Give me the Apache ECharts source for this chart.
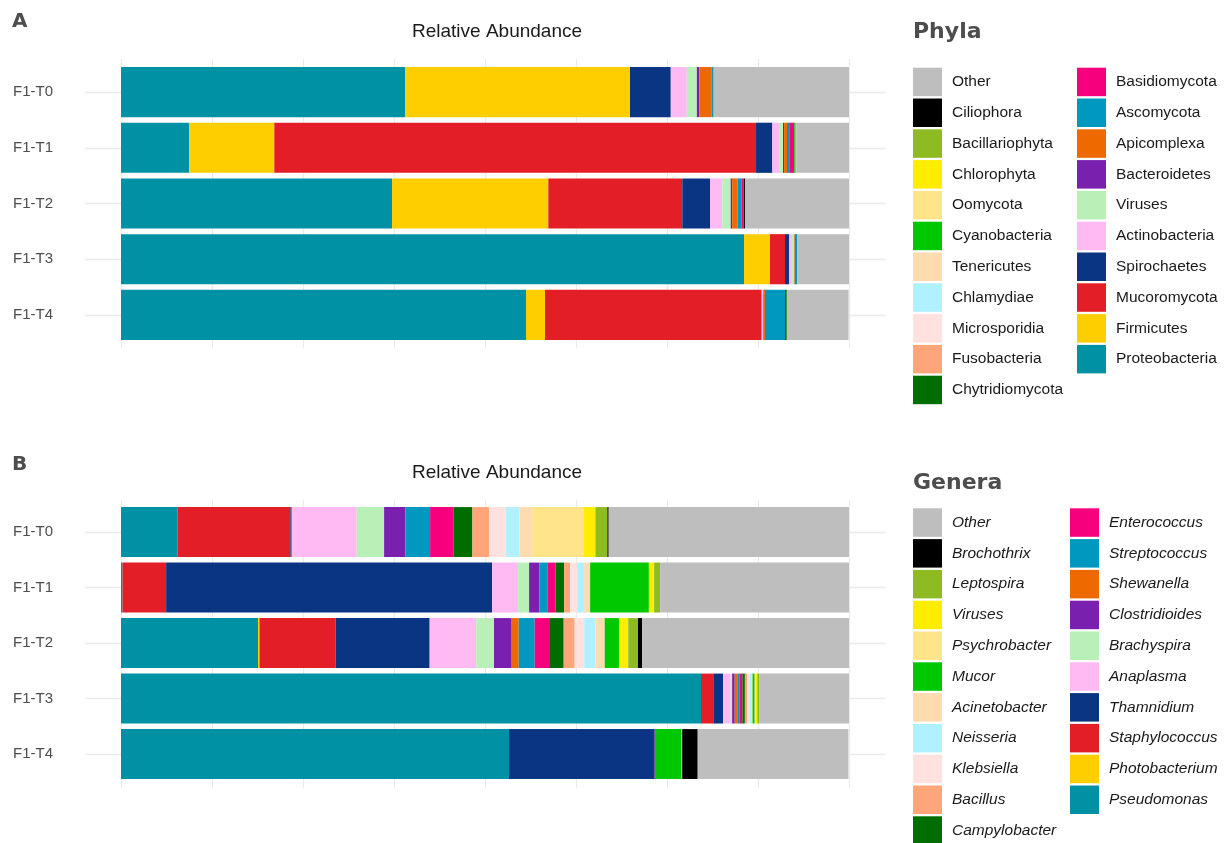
<!DOCTYPE html>
<html>
<head>
<meta charset="utf-8">
<script src="https://cdn.jsdelivr.net/npm/echarts@6/dist/echarts.min.js"></script>
<style>
  html, body { margin: 0; padding: 0; background: #ffffff; }
  #chart { width: 1230px; height: 843px; }
</style>
</head>
<body>
<div id="chart"></div>
<script>
// Samples, top to bottom
const samples = ['F1-T0', 'F1-T1', 'F1-T2', 'F1-T3', 'F1-T4'];

// Taxa in stacking order (left to right along each bar)
const phyla = ['Proteobacteria', 'Firmicutes', 'Mucoromycota', 'Spirochaetes', 'Actinobacteria',
  'Viruses', 'Bacteroidetes', 'Apicomplexa', 'Ascomycota', 'Basidiomycota', 'Chytridiomycota',
  'Fusobacteria', 'Microsporidia', 'Chlamydiae', 'Tenericutes', 'Cyanobacteria', 'Oomycota',
  'Chlorophyta', 'Bacillariophyta', 'Ciliophora', 'Other'];
const genera = ['Pseudomonas', 'Photobacterium', 'Staphylococcus', 'Thamnidium', 'Anaplasma',
  'Brachyspira', 'Clostridioides', 'Shewanella', 'Streptococcus', 'Enterococcus', 'Campylobacter',
  'Bacillus', 'Klebsiella', 'Neisseria', 'Acinetobacter', 'Mucor', 'Psychrobacter',
  'Viruses', 'Leptospira', 'Brochothrix', 'Other'];

// Shared fill colours, same order as the taxa lists
const palette = ['#0091A4', '#FFCE00', '#E41E26', '#093582', '#FFB9F3', '#B8F0B8', '#7920AF',
  '#EE6A00', '#0098BF', '#F7007E', '#006D00', '#FFA57A', '#FFE1E0', '#AFF1FF', '#FFDBB0',
  '#00C800', '#FFE48A', '#FFED00', '#8FBB22', '#000000', '#BEBEBE'];

// Relative abundance of each phylum per sample
const phylaT0 = [0.3905, 0.3087, 0, 0.0560, 0.0220, 0.0138, 0.0036, 0.0170, 0.0025, 0, 0,
  0, 0, 0, 0, 0, 0, 0, 0, 0, 0.1864];
const phylaT1 = [0.0938, 0.1168, 0.6617, 0.0224, 0.0091, 0.0055, 0.0015, 0.0040, 0.0040, 0.0045, 0.0018,
  0, 0, 0, 0, 0.0012, 0, 0, 0.0013, 0, 0.0742];
const phylaT2 = [0.3723, 0.2147, 0.1840, 0.0381, 0.0169, 0.0115, 0.0020, 0.0073, 0.0055, 0.0025, 0.0010,
  0, 0, 0, 0, 0, 0, 0, 0, 0.0014, 0.1429];
const phylaT3 = [0.8558, 0.0357, 0.0206, 0.0055, 0.0040, 0.0030, 0, 0.0010, 0.0034, 0, 0,
  0, 0, 0, 0, 0, 0, 0, 0, 0, 0.0710];
const phylaT4 = [0.5563, 0.0261, 0.2977, 0, 0.0020, 0, 0, 0.0025, 0.0275, 0, 0.0025,
  0, 0, 0, 0, 0, 0, 0, 0, 0, 0.0848];

// Relative abundance of each genus per sample
const generaT0 = [0.0779, 0, 0.1547, 0.0019, 0.0893, 0.0376, 0.0292, 0, 0.0340, 0.0320, 0.0261,
  0.0229, 0.0233, 0.0183, 0.0179, 0, 0.0710, 0.0155, 0.0165, 0.0018, 0.3301];
const generaT1 = [0.0020, 0, 0.0600, 0.4478, 0.0357, 0.0151, 0.0142, 0, 0.0115, 0.0105, 0.0119,
  0.0083, 0.0096, 0.0096, 0.0082, 0.0807, 0, 0.0072, 0.0083, 0, 0.2596];
const generaT2 = [0.1882, 0.0020, 0.1047, 0.1291, 0.0640, 0.0244, 0.0233, 0.0106, 0.0219, 0.0211, 0.0188,
  0.0151, 0.0132, 0.0151, 0.0129, 0.0196, 0, 0.0128, 0.0134, 0.0055, 0.2843];
const generaT3 = [0.7967, 0, 0.0169, 0.0133, 0.0106, 0.0020, 0.0035, 0.0035, 0.0035, 0.0035, 0.0035,
  0.0030, 0.0030, 0.0025, 0.0020, 0.0030, 0.0010, 0.0025, 0.0025, 0, 0.1241];
const generaT4 = [0.5330, 0, 0, 0.1991, 0, 0, 0.0012, 0, 0, 0, 0,
  0, 0, 0, 0, 0.0364, 0, 0, 0.0012, 0.0213, 0.2070];

const phylaRows = [phylaT0, phylaT1, phylaT2, phylaT3, phylaT4];
const generaRows = [generaT0, generaT1, generaT2, generaT3, generaT4];

const SANS = '"Liberation Sans", Arial, Helvetica, sans-serif';
const GRID_COLOR = '#ebebeb';

function stackSeries(names, rows, stack, axisIndex) {
  return names.map((name, k) => ({
    name: name,
    type: 'bar',
    stack: stack,
    xAxisIndex: axisIndex,
    yAxisIndex: axisIndex,
    barCategoryGap: '10%',
    itemStyle: { color: palette[k] },
    emphasis: { disabled: true },
    data: rows.map(r => r[k])
  }));
}

// Legend columns list taxa in reverse stacking order
function legendColumn(names, from, to, left, top, italic) {
  const items = [];
  for (let k = from; k >= to; k--) {
    items.push({ name: names[k], itemStyle: { color: palette[k] } });
  }
  return {
    orient: 'vertical', left: left, top: top, height: 420, padding: 0,
    itemWidth: 29, itemHeight: 28.5, itemGap: 2.3,
    selectedMode: false, icon: 'rect',
    textStyle: { fontFamily: SANS, fontSize: 15.5, color: '#1a1a1a',
      fontStyle: italic ? 'italic' : 'normal', padding: [0, 0, 0, 5] },
    data: items
  };
}

function sampleAxes(gridIndex) {
  const ticks = { show: true, length: 36, alignWithLabel: true,
    lineStyle: { color: GRID_COLOR, width: 1.3 } };
  return [
    { type: 'category', gridIndex: gridIndex, data: samples, inverse: true,
      axisLine: { show: false }, axisTick: ticks, splitLine: { show: false },
      axisLabel: { margin: 68, color: '#4d4d4d', fontSize: 15, fontFamily: SANS } },
    { type: 'category', gridIndex: gridIndex, position: 'right', data: samples, inverse: true,
      axisLine: { show: false }, axisTick: ticks, axisLabel: { show: false } }
  ];
}

function abundanceAxis(gridIndex, withLines) {
  return { type: 'value', gridIndex: gridIndex, min: 0, max: 1, interval: 0.125,
    show: withLines, axisLine: { show: false }, axisTick: { show: false },
    axisLabel: { show: false },
    splitLine: { show: withLines, lineStyle: { color: GRID_COLOR, width: 1.2 } } };
}

function heading(text, x, y, font, color, align) {
  return { type: 'text', x: x, y: y, silent: true,
    style: { text: text, font: font, fill: color, align: align || 'left', verticalAlign: 'middle' } };
}

const chart = echarts.init(document.getElementById('chart'), null, { renderer: 'canvas' });

chart.setOption({
  animation: false,
  backgroundColor: '#ffffff',
  grid: [
    { left: 121, width: 728, top: 64.2, height: 278.6 },   // phyla bars
    { left: 121, width: 728, top: 59, height: 289 },       // phyla background lines
    { left: 121, width: 728, top: 504.3, height: 277.5 },  // genera bars
    { left: 121, width: 728, top: 500, height: 288 }       // genera background lines
  ],
  xAxis: [
    abundanceAxis(0, false),
    abundanceAxis(1, true),
    abundanceAxis(2, false),
    abundanceAxis(3, true)
  ],
  // 0,1: phyla sample axes; 2,3: genera sample axes; 4,5: background grids
  yAxis: [
    ...sampleAxes(0),
    ...sampleAxes(2),
    { type: 'value', gridIndex: 1, show: false },
    { type: 'value', gridIndex: 3, show: false }
  ],
  legend: [
    legendColumn(phyla, 20, 10, 913, 67.7, false),
    legendColumn(phyla, 9, 0, 1077, 67.7, false),
    legendColumn(genera, 20, 10, 913, 508.3, true),
    legendColumn(genera, 9, 0, 1070, 508.3, true)
  ],
  graphic: [
    heading('A', 12, 22, 'bold 20px "DejaVu Sans"', '#4d4d4d'),
    heading('Relative Abundance', 497, 32, '19px ' + SANS, '#1a1a1a', 'center'),
    heading('Phyla', 913, 32, 'bold 22px "DejaVu Sans"', '#4d4d4d'),
    heading('B', 12, 465, 'bold 20px "DejaVu Sans"', '#4d4d4d'),
    heading('Relative Abundance', 497, 473, '19px ' + SANS, '#1a1a1a', 'center'),
    heading('Genera', 913, 483, 'bold 22px "DejaVu Sans"', '#4d4d4d')
  ],
  series: [
    ...stackSeries(phyla, phylaRows, 'phyla', 0),
    ...stackSeries(genera, generaRows, 'genera', 2)
  ]
});
</script>
</body>
</html>
